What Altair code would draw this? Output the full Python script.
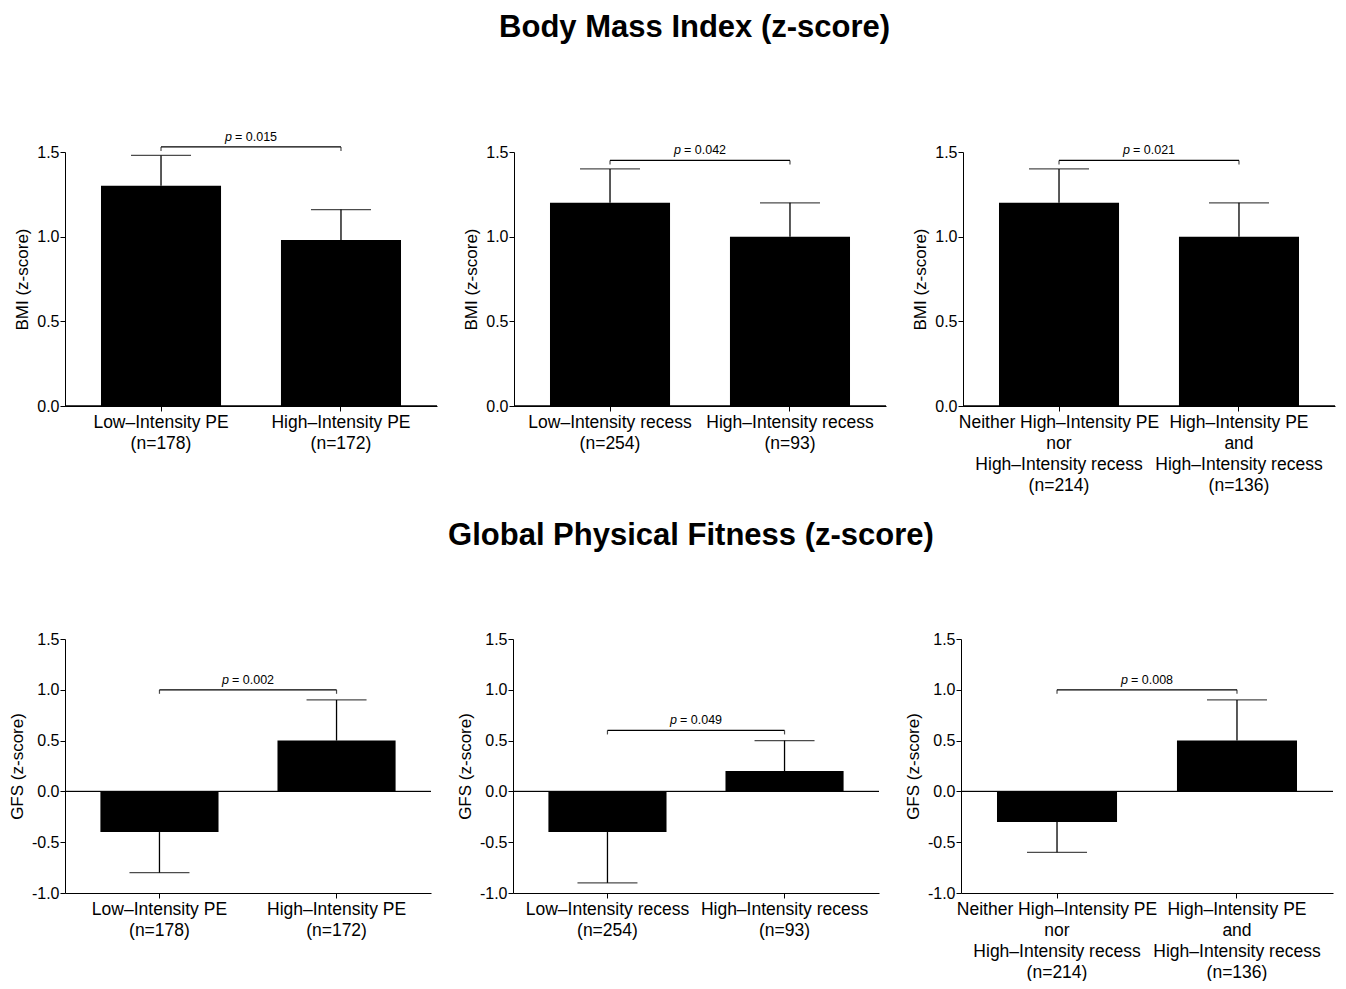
import altair as alt
import pandas as pd

FONT = "Liberation Sans"

pe_labels = ["Low–Intensity PE|(n=178)", "High–Intensity PE|(n=172)"]
recess_labels = ["Low–Intensity recess|(n=254)", "High–Intensity recess|(n=93)"]
combo_labels = ["Neither High–Intensity PE|nor|High–Intensity recess|(n=214)",
                "High–Intensity PE|and|High–Intensity recess|(n=136)"]

bmi_pe_mean = [1.30, 0.98]
bmi_pe_err = [1.48, 1.16]
bmi_recess_mean = [1.20, 1.00]
bmi_recess_err = [1.40, 1.20]
bmi_combo_mean = [1.20, 1.00]
bmi_combo_err = [1.40, 1.20]

gfs_pe_mean = [-0.40, 0.50]
gfs_pe_err = [-0.80, 0.90]
gfs_recess_mean = [-0.40, 0.20]
gfs_recess_err = [-0.90, 0.50]
gfs_combo_mean = [-0.30, 0.50]
gfs_combo_err = [-0.60, 0.90]

p_values = ["0.015", "0.042", "0.021", "0.002", "0.049", "0.008"]
bracket_levels = [1.53, 1.45, 1.45, 1.00, 0.60, 1.00]

bmi_domain = [0.0, 1.5]
gfs_domain = [-1.0, 1.5]


def panel(labels, means, errs, pval, bracket, ytitle, domain, width, height):
    df = pd.DataFrame({"cat": labels, "mean": means, "err": errs})
    br = pd.DataFrame({"c1": [labels[0]], "c2": [labels[1]], "b": [bracket]})
    ends = pd.DataFrame({"cat": labels, "b": [bracket, bracket]})

    xscale = alt.Scale(domain=labels, paddingInner=0.333, paddingOuter=0.2)
    x = alt.X("cat:N", title=None, scale=xscale,
              axis=alt.Axis(labelAngle=0, labelExpr="split(datum.label, '|')",
                            labelFont=FONT, labelFontSize=17.5, labelColor="black",
                            labelLineHeight=21, labelPadding=2, tickSize=5,
                            labelLimit=0,
                            tickColor="black", domainColor="black", labelBaseline="top"))
    y = alt.Y("mean:Q", title=ytitle,
              scale=alt.Scale(domain=domain, nice=False, zero=False),
              axis=alt.Axis(values=[v / 2 for v in range(int(domain[0] * 2), 4)],
                            labelExpr="(datum.value < 0 ? '-' : '') + format(abs(datum.value), '.1f')",
                            grid=False, labelFont=FONT, labelFontSize=16,
                            labelColor="black", labelPadding=1, tickSize=5,
                            tickColor="black", domainColor="black",
                            titleFont=FONT, titleFontSize=17, titleFontWeight="normal",
                            titleColor="black", titlePadding=5))

    base = alt.Chart(df)
    bars = base.mark_bar(color="black").encode(x=x, y=y)
    stem = base.mark_rule(color="black", strokeWidth=1.3).encode(
        x=alt.X("cat:N", scale=xscale), y="mean:Q", y2="err:Q")
    cap = base.mark_tick(color="black", size=60, thickness=1.3).encode(
        x=alt.X("cat:N", scale=xscale), y="err:Q")
    zero = alt.Chart(df).mark_rule(color="black", strokeWidth=1).encode(y=alt.datum(0))
    bline = alt.Chart(br).mark_rule(color="black", strokeWidth=1.2).encode(
        x=alt.X("c1:N", scale=xscale), x2="c2:N", y="b:Q")
    bends = alt.Chart(ends).mark_tick(color="black", orient="vertical", size=4,
                                      thickness=1.2, yOffset=2).encode(
        x=alt.X("cat:N", scale=xscale), y="b:Q")
    ptxt = alt.Chart(br).mark_text(font=FONT, fontSize=12.5, fontStyle="italic",
                                   align="right", baseline="bottom", dx=-19, dy=-3,
                                   color="black").encode(
        x=alt.value(width / 2), y="b:Q", text=alt.value("p"))
    vtxt = alt.Chart(br).mark_text(font=FONT, fontSize=12.5, align="left",
                                   baseline="bottom", dx=-16, dy=-3,
                                   color="black").encode(
        x=alt.value(width / 2), y="b:Q", text=alt.value("= " + pval))
    return alt.layer(bars, zero, stem, cap, bline, bends, ptxt, vtxt).properties(
        width=width, height=height,
        view=alt.ViewBackground(stroke="transparent", strokeWidth=0))


W_TOP, W_BOT, H = 372, 366, 254

top = alt.hconcat(
    panel(pe_labels, bmi_pe_mean, bmi_pe_err, p_values[0], bracket_levels[0],
          "BMI (z-score)", bmi_domain, W_TOP, H),
    panel(recess_labels, bmi_recess_mean, bmi_recess_err, p_values[1], bracket_levels[1],
          "BMI (z-score)", bmi_domain, W_TOP, H),
    panel(combo_labels, bmi_combo_mean, bmi_combo_err, p_values[2], bracket_levels[2],
          "BMI (z-score)", bmi_domain, W_TOP, H),
    spacing=24,
    title=alt.TitleParams("Body Mass Index (z-score)", font=FONT, fontSize=31,
                          fontWeight="bold", color="black", anchor="middle",
                          offset=87, dx=20),
)

bottom = alt.hconcat(
    panel(pe_labels, gfs_pe_mean, gfs_pe_err, p_values[3], bracket_levels[3],
          "GFS (z-score)", gfs_domain, W_BOT, H),
    panel(recess_labels, gfs_recess_mean, gfs_recess_err, p_values[4], bracket_levels[4],
          "GFS (z-score)", gfs_domain, W_BOT, H),
    panel(combo_labels, gfs_combo_mean, gfs_combo_err, p_values[5], bracket_levels[5],
          "GFS (z-score)", gfs_domain, W_BOT + 6, H),
    spacing=24,
    title=alt.TitleParams("Global Physical Fitness (z-score)", font=FONT, fontSize=31,
                          fontWeight="bold", color="black", anchor="middle",
                          offset=79, dx=20),
)

chart = alt.vconcat(top, bottom, spacing=26).properties(
    padding={"top": 3, "left": 0, "right": 0, "bottom": 0}).configure_view(
    stroke="transparent", strokeWidth=0).configure(background="white")

chart.save("out.html", embed_options={"renderer": "svg", "actions": False})
